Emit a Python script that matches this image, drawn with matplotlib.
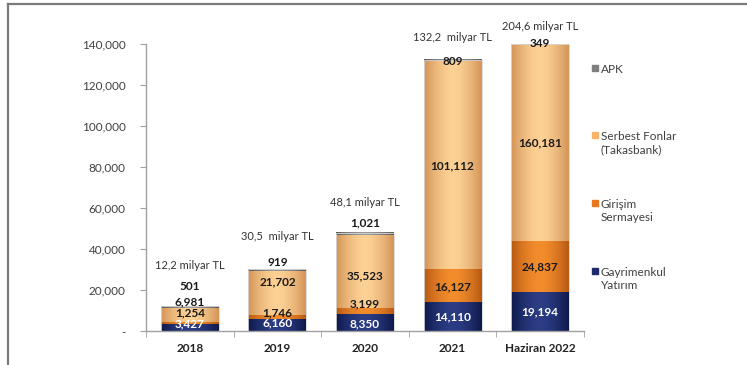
import matplotlib.pyplot as plt
import matplotlib
import numpy as np
from matplotlib.colors import LinearSegmentedColormap
from matplotlib.patches import Rectangle
from matplotlib.lines import Line2D

matplotlib.rc('font', family=['Lato', 'DejaVu Sans'], size=8.5)

# 数据（百万TL）
categories = ['2018', '2019', '2020', '2021', 'Haziran 2022']
gayrimenkul = [3427, 6160, 8350, 14110, 19194]
girisim = [1254, 1746, 3199, 16127, 24837]
serbest = [6981, 21702, 35523, 101112, 160181]
apk = [501, 919, 1021, 809, 349]
totals = ['12,2 milyar TL', '30,5  milyar TL', '48,1 milyar TL', '132,2  milyar TL', '204,6 milyar TL']

# 标签的纵向位置（数据坐标）
lab_gayrimenkul = [3650, 4130, 3650, 7050, 9480]
lab_girisim = [8990, 8990, 13370, 21630, 31350]
lab_serbest = [14340, 24060, 26980, 80460, 91630]
lab_apk = [21630, 33780, 52740, 131490, 140240]
lab_total = [31840, 46420, 62470, 143160, 148500]

series = [
    ('Gayrimenkul\nYatırım', gayrimenkul, '#0f1a4c', '#2c3d85', '#1f2a6a'),
    ('Girişim\nSermayesi', girisim, '#b85a14', '#f38d2c', '#e8781e'),
    ('Serbest Fonlar\n(Takasbank)', serbest, '#d49558', '#fdd195', '#f9b468'),
    ('APK', apk, '#5a5a5a', '#9a9a9a', '#7f7f7f'),
]

fig = plt.figure(figsize=(7.47, 3.65), dpi=100)
ax = fig.add_axes([0.1954, 0.0918, 0.5864, 0.7890])

x = np.arange(len(categories))
w = 0.66
ymax = 140000
grad = np.abs(np.linspace(-1, 1, 64)) ** 1.6
grad = (1 - grad)[None, :]

bottom = np.zeros(len(categories))
for name, vals, edge, centre, _ in series:
    cmap = LinearSegmentedColormap.from_list(name, [edge, centre])
    for i, v in enumerate(vals):
        lo, hi = bottom[i], bottom[i] + v
        top = min(hi, ymax)
        if lo < ymax:
            ax.imshow(grad, cmap=cmap, vmin=0, vmax=1, aspect='auto',
                      extent=[x[i] - w / 2, x[i] + w / 2, lo, top],
                      interpolation='bilinear', zorder=2)
    bottom += np.array(vals)

# 柱子外框
for i in range(len(categories)):
    total = gayrimenkul[i] + girisim[i] + serbest[i] + apk[i]
    ax.add_patch(Rectangle((x[i] - w / 2, 0), w, min(total, ymax), fill=False,
                           edgecolor='#d8d8d8', linewidth=0.6, zorder=3))

ax.set_xlim(-0.5, len(categories) - 0.5)
ax.set_ylim(0, ymax)

# 数值标签
def fmt(v):
    return f'{v:,}'

for i in range(len(categories)):
    ax.text(x[i], lab_gayrimenkul[i], fmt(gayrimenkul[i]), ha='center', va='center',
            color='white', fontweight='bold', fontsize=8.5, zorder=5)
    ax.text(x[i], lab_girisim[i], fmt(girisim[i]), ha='center', va='center',
            color='#1a1a1a', fontweight='bold', fontsize=8.5, zorder=5)
    ax.text(x[i], lab_serbest[i], fmt(serbest[i]), ha='center', va='center',
            color='#1a1a1a', fontweight='bold', fontsize=8.5, zorder=5)
    ax.text(x[i], lab_apk[i], fmt(apk[i]), ha='center', va='center',
            color='#1a1a1a', fontweight='bold', fontsize=8.5, zorder=5)
    ax.text(x[i], lab_total[i], totals[i], ha='center', va='center',
            color='#333333', fontsize=8, zorder=5)

# 坐标轴
for s in ['top', 'right']:
    ax.spines[s].set_visible(False)
for s in ['left', 'bottom']:
    ax.spines[s].set_color('#a0a0a0')
    ax.spines[s].set_linewidth(1.0)

yt = np.arange(0, 140001, 20000)
ax.set_yticks(yt)
ax.set_yticklabels(['-'] + [f'{v:,}' for v in yt[1:]])
ax.tick_params(axis='y', direction='out', length=4, color='#a0a0a0',
               labelcolor='#404040', labelsize=8.5, pad=10.5)

ax.set_xticks(x)
ax.set_xticklabels(categories, fontweight='bold', color='#222222', fontsize=8.5)
ax.tick_params(axis='x', length=0, pad=8)
ax.set_xticks(np.arange(-0.5, len(categories), 1), minor=True)
ax.tick_params(axis='x', which='minor', direction='out', length=4, color='#a0a0a0')

# 图例
legend_y = [(0.8137, 'APK', 3), (0.6301, 'Serbest Fonlar\n(Takasbank)', 2),
            (0.4438, 'Girişim\nSermayesi', 1), (0.2575, 'Gayrimenkul\nYatırım', 0)]
for yy, label, k in legend_y:
    fig.patches.append(Rectangle((0.7925, yy - 0.008), 0.0085, 0.0175,
                                 transform=fig.transFigure, color=series[k][4]))
    fig.text(0.8045, yy + 0.012, label, ha='left', va='top', fontsize=8.5,
             color='#404040', linespacing=1.25)

# 外框（上、左）
fig.lines.append(Line2D([0.0107, 1.0], [0.989, 0.989], transform=fig.transFigure,
                        color='#7a7a7a', linewidth=1.6))
fig.lines.append(Line2D([0.0107, 0.0107], [0.0, 0.989], transform=fig.transFigure,
                        color='#7a7a7a', linewidth=1.6))

plt.savefig('out.png', dpi=100)
